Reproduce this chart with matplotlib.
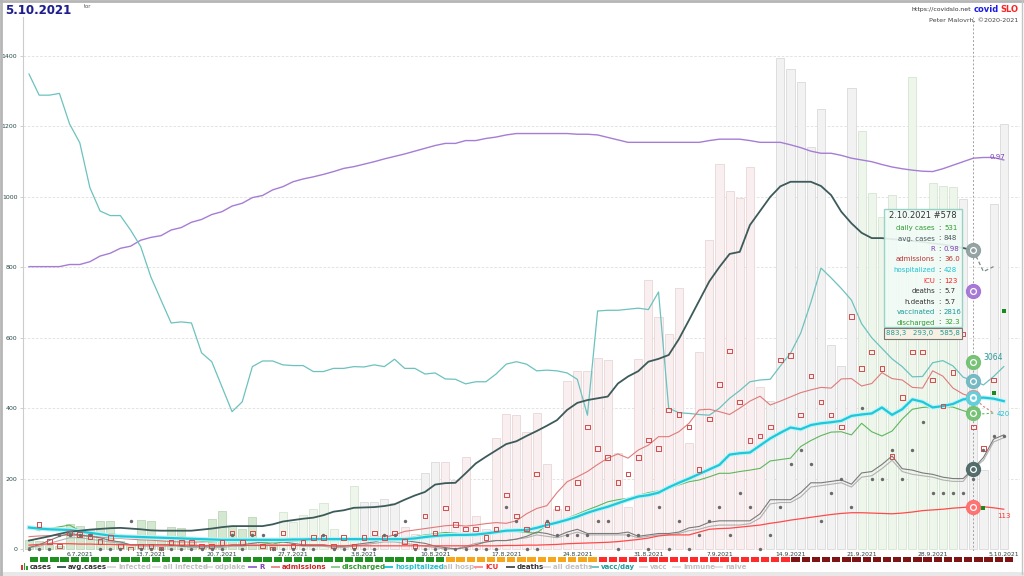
import matplotlib
matplotlib.use("Agg")
import matplotlib.pyplot as plt
from matplotlib.lines import Line2D
from matplotlib.patches import Rectangle
import numpy as np
import datetime as dt

W, H = 1024, 576
start = dt.date(2021, 7, 1)
nan = np.nan

# daily cases (bars)
cases = [25, 22, 12, 8, 70, 65, 55, 80, 80, 23, 10, 82, 80, 30, 62, 59, 20, 12, 85, 108,
         66, 56, 92, 25, 15, 104, 78, 96, 114, 131, 56, 25, 179, 134, 134, 141, 130, 63, 43, 215,
         246, 246, 196, 262, 94, 56, 316, 383, 380, 331, 387, 241, 113, 477, 506, 506, 542, 537, 272, 120,
         540, 764, 660, 610, 741, 300, 560, 878, 1093, 1017, 997, 1085, 460, 420, 1394, 1363, 1326, 1142, 1250, 580,
         520, 1309, 1187, 1011, 943, 1005, 840, 1340, 700, 1040, 1030, 1028, 994, 531, 224, 980, 1207]
tone_runs = [("G", 25), ("g", 8), ("n", 4), ("r", 2), ("n", 2), ("r", 32), ("n", 9), ("g", 10), ("n", 5)]
band_runs = [("g", 41), ("o", 15), ("r", 19), ("d", 22)]

avg_cases = [24, 30, 36, 43, 49, 52, 55, 57, 59, 60, 58, 56, 53, 52, 52, 52, 52, 55, 58, 62,
             65, 65, 65, 65, 70, 78, 82, 86, 89, 96, 106, 110, 117, 118, 119, 122, 127, 140, 152, 162,
             183, 187, 188, 215, 243, 262, 280, 298, 306, 321, 335, 350, 366, 395, 415, 423, 428, 433, 470, 490,
             505, 532, 540, 551, 596, 650, 705, 760, 801, 838, 844, 920, 960, 1000, 1030, 1043, 1043, 1043, 1031, 1005,
             958, 925, 898, 883, 883, 880, 878, 875, 872, 868, 865, 860, 855, 848]
proj_x = [93, 94, 95]
avg_cases_proj = [848, 788, 802]

r_line = [802, 802, 802, 802, 808, 808, 816, 832, 840, 854, 860, 877, 885, 890, 906, 913, 928, 936, 950, 958,
          974, 982, 998, 1004, 1020, 1029, 1043, 1051, 1057, 1064, 1072, 1081, 1086, 1093, 1100, 1108, 1115, 1122, 1130, 1138,
          1146, 1152, 1152, 1160, 1160, 1166, 1170, 1176, 1180, 1180, 1180, 1180, 1180, 1180, 1178, 1178, 1176, 1169, 1162, 1155,
          1155, 1155, 1155, 1155, 1155, 1155, 1155, 1160, 1164, 1164, 1164, 1160, 1155, 1155, 1155, 1148, 1140, 1130, 1124, 1124,
          1118, 1110, 1105, 1100, 1092, 1085, 1080, 1076, 1073, 1072, 1080, 1090, 1100, 1110, 1112, 1112, 1105]

vacc_day = [1349, 1289, 1289, 1294, 1207, 1154, 1026, 960, 947, 947, 906, 859, 773, 707, 642, 645, 642, 557, 532, 461,
            390, 418, 518, 534, 534, 523, 521, 521, 504, 504, 513, 513, 518, 517, 523, 518, 539, 513, 513, 497,
            500, 483, 482, 469, 475, 475, 497, 525, 532, 525, 506, 508, 506, 500, 482, 380, 676, 678, 678, 681,
            684, 680, 730, 400, 387, 385, 382, 380, 400, 428, 450, 475, 480, 482, 520, 556, 613, 700, 798, 770,
            740, 707, 640, 600, 570, 540, 518, 489, 490, 529, 535, 520, 488, 478, 466, 490, 518]

adm_day = [nan, 70, 21, 9, 45, 42, 35, 21, 33, 9, 0, 9, 9, 0, 19, 19, 19, 9, 9, 19,
           45, 19, 45, 9, 0, 45, 9, 19, 33, 33, 9, 33, 9, 33, 45, 33, 45, 21, 9, 94,
           45, 116, 70, 57, 57, 33, 57, 153, 94, 57, 213, 70, 116, 116, 189, 346, 286, 260, 189, 213,
           260, 310, 286, 395, 382, 346, 226, 369, 468, 562, 418, 308, 321, 346, 537, 550, 381, 491, 418, 381,
           346, 660, 513, 560, 513, 262, 431, 560, 560, 480, 406, 501, 611, 346, 286, 480, nan]
adm_avg = [35, 37, 38, 39, 40, 38, 36, 34, 32, 30, 28, 26, 25, 23, 21, 20, 20, 20, 21, 22,
           22, 22, 22, 22, 22, 24, 25, 25, 25, 27, 30, 31, 31, 32, 33, 33, 40, 50, 54, 58,
           62, 66, 68, 65, 68, 72, 75, 73, 80, 100, 115, 123, 160, 191, 205, 220, 240, 258, 270, 258,
           281, 295, 319, 319, 333, 357, 395, 397, 390, 382, 400, 420, 434, 409, 420, 432, 444, 452, 459, 457,
           483, 484, 463, 470, 501, 484, 480, 459, 457, 506, 491, 457, 440, 431]
adm_proj = [431, 405, 386]

discharged = [63, 52, 58, 63, 68, 52, 48, 45, 43, 40, 35, 35, 35, 35, 35, 35, 30, 22, 21, 22,
              23, 24, 24, 18, 14, 20, 22, 24, 26, 25, 24, 25, 27, 29, 31, 30, 29, 28, 35, 40,
              43, 47, 45, 42, 43, 45, 48, 52, 50, 47, 45, 68, 78, 87, 99, 111, 122, 134, 140, 144,
              152, 160, 165, 172, 182, 191, 196, 205, 215, 215, 220, 224, 229, 250, 254, 258, 291, 308, 322, 332,
              333, 324, 357, 333, 321, 335, 369, 397, 402, 404, 405, 403, 393, 385]
dis_proj = [385, 384, 386]

hospitalized = [61, 58, 56, 55, 54, 50, 46, 42, 38, 36, 35, 34, 33, 32, 31, 30, 29, 28, 27, 26,
                26, 26, 26, 26, 26, 26, 27, 27, 28, 28, 28, 28, 28, 28, 28, 28, 28, 28, 30, 34,
                37, 39, 40, 40, 41, 44, 48, 52, 53, 54, 60, 68, 75, 83, 92, 103, 112, 120, 130, 140,
                149, 153, 160, 175, 188, 200, 213, 226, 239, 268, 272, 274, 294, 314, 330, 345, 340, 352, 357, 360,
                364, 378, 382, 385, 402, 381, 397, 425, 418, 402, 406, 412, 425, 428, 430, 427, 420]

icu = [11, 13, 15, 15, 15, 14, 14, 13, 13, 12, 12, 12, 12, 12, 11, 11, 11, 10, 10, 10,
       10, 10, 10, 10, 10, 10, 10, 10, 10, 10, 9, 9, 9, 9, 9, 9, 9, 9, 9, 9,
       9, 9, 9, 9, 9, 9, 9, 10, 10, 11, 11, 12, 13, 15, 16, 17, 18, 19, 21, 24,
       27, 31, 37, 40, 40, 40, 48, 56, 58, 59, 62, 65, 68, 73, 77, 82, 86, 90, 94, 98,
       101, 103, 103, 102, 101, 100, 102, 105, 109, 111, 113, 116, 118, 120, 120, 117, 113]

deaths = [0, 0, 0, 1, 1, 1, 1, 0, 0, 0, 2, 0, 0, 0, 0, 0, 0, 0, 0, 0,
          1, 0, 1, 1, 0, 0, 0, 0, 0, 1, 0, 0, 0, 0, 0, 1, 1, 2, 0, 0,
          0, 0, 0, 0, 0, 0, 0, 3, 2, 0, 0, 2, 1, 1, 1, 1, 2, 2, 0, 1,
          1, 0, 3, 0, 2, 0, 1, 2, 3, 1, 4, 3, 0, 1, 3, 6, 7, 6, 2, 4,
          5, 3, 10, 5, 5, 7, 5, 7, 9, 4, 4, 4, 4, 5, 7, 8, 8]
deaths_avg = [0.1, 0.3, 0.6, 0.9, 1.1, 1.0, 0.9, 0.8, 0.6, 0.5, 0.3, 0.3, 0.3, 0.3, 0.3, 0.2, 0.2, 0.2, 0.2, 0.2,
              0.3, 0.3, 0.4, 0.5, 0.5, 0.5, 0.4, 0.3, 0.3, 0.3, 0.2, 0.2, 0.3, 0.4, 0.5, 0.7, 0.7, 0.6, 0.5, 0.4,
              0.2, 0.1, 0.0, 0.1, 0.3, 0.5, 0.6, 0.6, 0.7, 0.9, 1.2, 1.1, 0.9, 1.2, 1.4, 1.1, 1.1, 1.1, 1.1, 1.2,
              0.9, 1.0, 1.1, 1.1, 1.2, 1.5, 1.6, 1.9, 2.0, 2.0, 2.0, 2.0, 2.5, 3.5, 3.5, 3.5, 4.0, 4.7, 4.7, 4.8,
              4.9, 4.6, 5.4, 5.5, 6.0, 6.6, 5.7, 5.6, 5.4, 5.3, 5.1, 5.0, 5.0, 5.7, 6.5, 7.8, 8.1]
hdeaths_avg = [0.1, 0.2, 0.4, 0.6, 0.8, 0.8, 0.7, 0.6, 0.5, 0.4, 0.3, 0.2, 0.2, 0.2, 0.2, 0.2, 0.1, 0.1, 0.1, 0.1,
               0.2, 0.2, 0.3, 0.3, 0.3, 0.3, 0.3, 0.2, 0.2, 0.2, 0.1, 0.1, 0.2, 0.3, 0.4, 0.5, 0.5, 0.4, 0.3, 0.2,
               0.1, 0.0, 0.0, 0.2, 0.4, 0.5, 0.6, 0.6, 0.7, 0.8, 1.0, 0.9, 0.8, 1.0, 1.2, 1.0, 1.0, 1.0, 1.0, 1.0,
               0.8, 0.9, 1.0, 1.0, 1.1, 1.3, 1.4, 1.6, 1.7, 1.7, 1.7, 1.8, 2.2, 3.2, 3.3, 3.3, 3.7, 4.4, 4.5, 4.6,
               4.7, 4.4, 5.1, 5.2, 5.7, 6.3, 5.5, 5.3, 5.2, 5.1, 4.9, 4.8, 4.8, 5.7, 6.3, 7.6, 7.9]
deaths_scale = 40

# values highlighted at the cursor day (2.10.2021)
cursor_day = 93
cursor_vals = [848, 733, 531, 478, 432, 428, 385, 228, 120]
cursor_cols = ["#8fa0a0", "#a374d4", "#72c172", "#72b8c2", "#f08888", "#5fd2de", "#72c172", "#4d6767", "#ff6e6e"]
proj_days = [94, 95, 96]
proj_vals = [116, 443, 676]

tip_rows = [("daily cases", "531", "#2f9a2f"), ("avg. cases", "848", "#44595a"), ("R", "0.98", "#7a3fb5"),
            ("admissions", "36.0", "#b83030"), ("hospitalized", "428", "#1ec3d3"), ("ICU", "123", "#ff2020"),
            ("deaths", "5.7", "#333333"), ("h.deaths", "5.7", "#333333"), ("vaccinated", "2816", "#1a9a9a"),
            ("discharged", "32.3", "#2f9a2f")]

legend_items = [("avg.cases", "#3d5a5a", "#333333", 58), ("infected", "#d8d8d8", "#c0c0c0", 108),
                ("all infected", "#e0e0e0", "#c0c0c0", 153), ("odplake", "#e0e0e0", "#c0c0c0", 205),
                ("R", "#9b6fcf", "#7a3fb5", 249), ("admissions", "#e88a8a", "#d02525", 272),
                ("discharged", "#8ccc8c", "#2f9a2f", 332), ("hospitalized", "#22c8d8", "#1ec3d3", 385),
                ("all hosp.", "#e0e0e0", "#c0c0c0", 433), ("ICU", "#ff9090", "#ff2020", 475),
                ("deaths", "#555555", "#333333", 507), ("all deaths", "#e0e0e0", "#c0c0c0", 543),
                ("vacc/day", "#6cc4c0", "#1a9a9a", 591), ("vacc", "#e0e0e0", "#c0c0c0", 640),
                ("immune", "#e0e0e0", "#c0c0c0", 673), ("naive", "#e0e0e0", "#c0c0c0", 715)]

plt.rcParams['font.family'] = ['DejaVu Sans']


def fx(x):
    return x / W


def fy(y):
    return 1 - y / H


fig = plt.figure(figsize=(W / 100, H / 100), dpi=100)
ax = fig.add_axes([fx(23), fy(551), (1020 - 23) / W, (551 - 17) / H])
n = len(cases)
days = np.arange(n)
ax.set_xlim(-0.59, 97.6)
ax.set_ylim(-5.7, 1511)

tone_face = {"G": "#d4e7d0", "g": "#eef6ec", "n": "#f2f2f2", "r": "#f9eff0"}
tone_edge = {"G": "#bcd7b6", "g": "#d5e6d2", "n": "#d9d9d9", "r": "#e8d6d6"}
tones = []
for t, k in tone_runs:
    tones += [t] * k
ax.bar(days, cases, width=0.8, color=[tone_face[t] for t in tones],
       edgecolor=[tone_edge[t] for t in tones], linewidth=0.6, zorder=1)

for v in range(200, 1401, 200):
    ax.axhline(v, color="#dedede", lw=0.6, ls=(0, (3, 2)), zorder=0)

ax.plot(days, r_line, color="#a57dd4", lw=1.0, zorder=3)
ax.plot(days, vacc_day, color="#6cc2be", lw=0.9, zorder=3)
ax.plot(days[:len(adm_avg)], adm_avg, color="#e07a7a", lw=0.8, zorder=3)
ax.plot(proj_x, adm_proj, color="#e07a7a", lw=0.8, ls=(0, (2, 2)), zorder=3)
ax.plot(days[:len(discharged)], discharged, color="#5cb85c", lw=0.8, zorder=3)
ax.plot(proj_x, dis_proj, color="#5cb85c", lw=0.8, ls=(0, (2, 2)), zorder=3)
ax.plot(days, np.array(hdeaths_avg) * deaths_scale, color="#b0b0b0", lw=0.8, zorder=3)
ax.plot(days, np.array(deaths_avg) * deaths_scale, color="#7a7a7a", lw=0.8, zorder=3)
ax.plot(days, icu, color="#ff4a4a", lw=0.9, zorder=4)
ax.plot(days, hospitalized, color="#bff3f7", lw=3.2, zorder=4)
ax.plot(days, hospitalized, color="#1ec8d8", lw=1.6, zorder=4)
ax.plot(days[:len(avg_cases)], avg_cases, color="#3d5a5a", lw=1.3, zorder=5)
ax.plot(proj_x, avg_cases_proj, color="#7a8a8a", lw=0.9, ls=(0, (3, 2)), zorder=5)
ax.scatter(days, adm_day, marker="s", s=11, facecolor="none", edgecolor="#d44a4a", lw=0.7, zorder=6)
ax.scatter(days, np.array(deaths) * deaths_scale, s=6, color="#6a6a6a", lw=0, zorder=6)
ax.scatter(proj_days, proj_vals, marker="s", s=8, color="#1a8a1a", lw=0, zorder=6)

ax.axvline(cursor_day, color="#a0a0a0", lw=0.7, ls=(0, (2, 2)), zorder=2)
for v, c in zip(cursor_vals, cursor_cols):
    ax.plot(cursor_day, v, "o", ms=10, color=c, alpha=0.95, zorder=8)
    ax.plot(cursor_day, v, "o", ms=4.2, mfc="none", mec="white", mew=0.9, zorder=9)

ax.text(94.6, 1112, "0.97", color="#7a3fb5", fontsize=5, va="center", zorder=9)
ax.text(94.0, 545, "3064", color="#2a9a9a", fontsize=5.5, va="center", zorder=9)
ax.text(96.0, 383, "420", color="#1ec3d3", fontsize=5, ha="center", va="center", zorder=9)
ax.text(96.0, 93, "113", color="#ff3030", fontsize=5, ha="center", va="center", zorder=9)

ticks = list(range(5, n, 7))
ax.set_xticks(ticks)
ax.set_xticklabels([(lambda d: f"{d.day}.{d.month}.{d.year}")(start + dt.timedelta(days=int(i))) for i in ticks],
                   fontsize=4.3, color="#2a4040")
ax.set_yticks(range(0, 1401, 200))
ax.set_yticklabels([str(v) for v in range(0, 1401, 200)], fontsize=4.5, color="#2a4a4a")
ax.tick_params(axis="x", length=0, pad=1)
ax.tick_params(axis="y", length=2, width=0.5, color="#bbbbbb", pad=2)
for s in ["top", "right", "bottom"]:
    ax.spines[s].set_visible(False)
ax.spines["left"].set_color("#cccccc")
ax.spines["left"].set_linewidth(0.8)
ax.patch.set_alpha(0)

# colored band under the axis
bax = fig.add_axes([fx(23), fy(561.5), (1020 - 23) / W, 4.2 / H])
bax.set_xlim(-0.59, 97.6)
bax.set_ylim(0, 1)
band_col = {"g": "#1f8f1f", "o": "#f7a61c", "r": "#ff2a2a", "d": "#7d1313"}
bands = []
for t, k in band_runs:
    bands += [t] * k
bax.bar(days + 0.5, [1] * n, width=0.82, color=[band_col[b] for b in bands], lw=0)
bax.axis("off")

# tooltip
fig.add_artist(Rectangle((fx(884), fy(327)), 78 / W, 118 / H, transform=fig.transFigure,
                         facecolor="#f2fbf7", edgecolor="#8fcfbf", lw=1.0, alpha=0.9, zorder=20))
fig.add_artist(Rectangle((fx(884), fy(339)), 78 / W, 11 / H, transform=fig.transFigure,
                         facecolor="#f8f0e2", edgecolor="#777777", lw=0.8, zorder=20))
fig.text(fx(923), fy(216), "2.10.2021 #578", fontsize=6, color="#333333", ha="center", va="center", zorder=21)
for k, (lab, val, col) in enumerate(tip_rows):
    yy = fy(228 + k * 10.5)
    fig.text(fx(935), yy, lab, fontsize=5, color=col, ha="right", va="center", zorder=21)
    fig.text(fx(939), yy, ":", fontsize=5, color="#333333", ha="center", va="center", zorder=21)
    fig.text(fx(944), yy, val, fontsize=5, color=col, ha="left", va="center", zorder=21)
fig.text(fx(923), fy(333.5), "883,3   293,0   585,8", fontsize=5, color="#1a9a9a", ha="center", va="center", zorder=21)

# header
fig.text(fx(6), fy(10.5), "5.10.2021", fontsize=8.5, fontweight="bold", color="#d8d8e8", ha="left", va="center",
         fontstyle="italic")
fig.text(fx(5), fy(10), "5.10.2021", fontsize=8.5, fontweight="bold", color="#1d1d8f", ha="left", va="center")
fig.text(fx(84), fy(6), "tor", fontsize=3.8, color="#555555", ha="left", va="center")
fig.text(fx(971), fy(9), "https://covidslo.net", fontsize=4.4, color="#333333", ha="right", va="center")
fig.text(fx(999), fy(9), "covid", fontsize=6, fontweight="bold", color="#1a1ae6", ha="right", va="center")
fig.text(fx(1000), fy(9), "SLO", fontsize=6, fontweight="bold", color="#ff2020", ha="left", va="center")
fig.text(fx(1018), fy(20), "Peter Malovrh, ©2020-2021", fontsize=4.6, color="#444444", ha="right", va="center")

# legend
ly = fy(567)
for dx, c, h in [(21, "#e03030", 5), (23.5, "#2f9a2f", 7), (26, "#2f9a2f", 4)]:
    fig.add_artist(Rectangle((fx(dx), ly - 3 / H), 1.8 / W, h / H, transform=fig.transFigure, color=c, lw=0))
fig.text(fx(30), ly, "cases", fontsize=5, color="#333333", va="center", fontweight="bold")
for lab, lc, tc, x0 in legend_items:
    fig.add_artist(Line2D([fx(x0), fx(x0 + 7)], [ly, ly], transform=fig.transFigure, color=lc, lw=1.4))
    fig.text(fx(x0 + 10), ly, lab, fontsize=5, color=tc, va="center", fontweight="bold")

# frame
fig.add_artist(Rectangle((0, 0), 1, 4 / H, transform=fig.transFigure, color="#e8e8e8", lw=0))
fig.add_artist(Line2D([fx(1), fx(1)], [0, 1], transform=fig.transFigure, color="#b5b5b5", lw=2))
fig.add_artist(Line2D([0, 1], [fy(1), fy(1)], transform=fig.transFigure, color="#b5b5b5", lw=2))
fig.add_artist(Line2D([fx(1022), fx(1022)], [fy(574), 1], transform=fig.transFigure, color="#c5c5c5", lw=1))

fig.savefig("out.png", dpi=100)
